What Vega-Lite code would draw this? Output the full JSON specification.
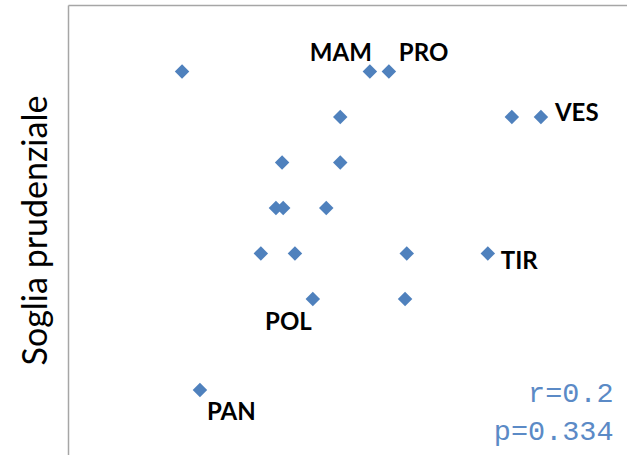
{
  "$schema": "https://vega.github.io/schema/vega-lite/v6.json",
  "autosize": {"type": "fit", "contains": "padding"},
  "width": 627,
  "height": 455,
  "padding": {"left": 19, "top": 5, "right": 0, "bottom": 0},
  "background": "white",
  "config": {"view": {"stroke": null}},
  "datasets": {
    "points": [
      {"x": 2.04, "y": 8, "label": ""},
      {"x": 5.40, "y": 8, "label": "MAM"},
      {"x": 5.74, "y": 8, "label": "PRO"},
      {"x": 4.87, "y": 7, "label": ""},
      {"x": 7.94, "y": 7, "label": ""},
      {"x": 8.46, "y": 7, "label": "VES"},
      {"x": 3.83, "y": 6, "label": ""},
      {"x": 4.87, "y": 6, "label": ""},
      {"x": 3.72, "y": 5, "label": ""},
      {"x": 3.85, "y": 5, "label": ""},
      {"x": 4.62, "y": 5, "label": ""},
      {"x": 3.45, "y": 4, "label": ""},
      {"x": 4.06, "y": 4, "label": ""},
      {"x": 6.06, "y": 4, "label": ""},
      {"x": 7.51, "y": 4, "label": "TIR"},
      {"x": 4.38, "y": 3, "label": "POL"},
      {"x": 6.03, "y": 3, "label": ""},
      {"x": 2.36, "y": 1, "label": "PAN"}
    ]
  },
  "data": {"name": "points"},
  "encoding": {
    "x": {"field": "x", "type": "quantitative", "scale": {"domain": [0, 10], "nice": false, "zero": false},
      "axis": {"orient": "top", "title": null, "labels": false, "ticks": false, "grid": false, "domain": true, "domainColor": "#a6a6a6", "domainWidth": 1.5}},
    "y": {"field": "y", "type": "quantitative", "scale": {"domain": [-0.43, 9.46], "nice": false, "zero": false},
      "axis": {"title": "Soglia prudenziale", "labels": false, "ticks": false, "grid": false, "domain": true, "domainColor": "#a6a6a6", "domainWidth": 1.5,
        "titleFont": "Lato", "titleFontSize": 34, "titleFontWeight": "normal", "titleColor": "#000000", "titlePadding": 15}}
  },
  "layer": [
    {"mark": {"type": "point", "shape": "diamond", "filled": true, "size": 210, "color": "#4F81BD", "opacity": 1}},
    {"transform": [{"filter": "datum.label === 'MAM'"}],
     "mark": {"type": "text", "align": "right", "baseline": "middle", "dx": 2, "dy": -17, "font": "Lato", "fontSize": 24, "fontWeight": "bold", "color": "#000000"},
     "encoding": {"text": {"field": "label"}}},
    {"transform": [{"filter": "datum.label === 'PRO'"}],
     "mark": {"type": "text", "align": "left", "baseline": "middle", "dx": 10, "dy": -17, "font": "Lato", "fontSize": 24, "fontWeight": "bold", "color": "#000000"},
     "encoding": {"text": {"field": "label"}}},
    {"transform": [{"filter": "datum.label === 'VES'"}],
     "mark": {"type": "text", "align": "left", "baseline": "middle", "dx": 14, "dy": -3, "font": "Lato", "fontSize": 24, "fontWeight": "bold", "color": "#000000"},
     "encoding": {"text": {"field": "label"}}},
    {"transform": [{"filter": "datum.label === 'TIR'"}],
     "mark": {"type": "text", "align": "left", "baseline": "middle", "dx": 13, "dy": 9, "font": "Lato", "fontSize": 24, "fontWeight": "bold", "color": "#000000"},
     "encoding": {"text": {"field": "label"}}},
    {"transform": [{"filter": "datum.label === 'POL'"}],
     "mark": {"type": "text", "align": "right", "baseline": "middle", "dx": -1, "dy": 24, "font": "Lato", "fontSize": 24, "fontWeight": "bold", "color": "#000000"},
     "encoding": {"text": {"field": "label"}}},
    {"transform": [{"filter": "datum.label === 'PAN'"}],
     "mark": {"type": "text", "align": "left", "baseline": "middle", "dx": 7, "dy": 23, "font": "Lato", "fontSize": 24, "fontWeight": "bold", "color": "#000000"},
     "encoding": {"text": {"field": "label"}}},
    {"transform": [{"filter": "datum.label === 'PAN'"}],
     "mark": {"type": "text", "align": "right", "baseline": "middle", "font": "Liberation Mono", "fontSize": 28.5, "color": "#5b8ac6", "text": "r=0.2"},
     "encoding": {"x": {"datum": 9.76}, "y": {"datum": 0.94}}},
    {"transform": [{"filter": "datum.label === 'PAN'"}],
     "mark": {"type": "text", "align": "right", "baseline": "middle", "font": "Liberation Mono", "fontSize": 28.5, "color": "#5b8ac6", "text": "p=0.334"},
     "encoding": {"x": {"datum": 9.76}, "y": {"datum": 0.10}}}
  ]
}
